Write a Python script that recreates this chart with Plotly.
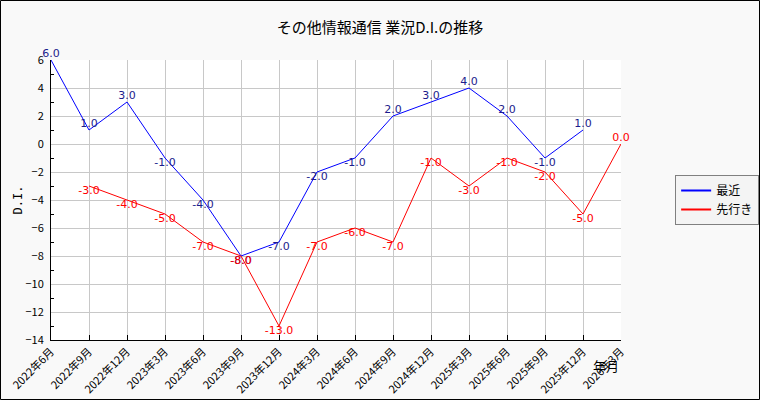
import plotly.graph_objects as go

# data
months = ['2022年6月', '2022年9月', '2022年12月', '2023年3月', '2023年6月', '2023年9月',
          '2023年12月', '2024年3月', '2024年6月', '2024年9月', '2024年12月', '2025年3月',
          '2025年6月', '2025年9月', '2025年12月', '2026年3月']
recent = [6.0, 1.0, 3.0, -1.0, -4.0, -8.0, -7.0, -2.0, -1.0, 2.0, 3.0, 4.0, 2.0, -1.0, 1.0, None]
outlook = [None, -3.0, -4.0, -5.0, -7.0, -8.0, -13.0, -7.0, -6.0, -7.0, -1.0, -3.0, -1.0, -2.0, -5.0, 0.0]
series = [('最近', recent, '#0000ff', '#1c1c8c'), ('先行き', outlook, '#ff0000', '#ff0000')]

def labels(vals):
    return ['' if v is None else f'{v:.1f}' for v in vals]

def positions(vals):
    return ['top center' if (v is not None and v >= 0) else 'bottom center' for v in vals]

fig = go.Figure()
for name, vals, color, tcolor in series:
    fig.add_trace(go.Scatter(x=months, y=vals, mode='lines+text', name=name,
                             line=dict(color=color, width=1), showlegend=False,
                             text=labels(vals), textposition=positions(vals),
                             textfont=dict(color=tcolor, size=11, family='DejaVu Sans'),
                             cliponaxis=False, hoverinfo='skip'))
# legend entries with a thicker sample line
for name, vals, color, tcolor in series:
    fig.add_trace(go.Scatter(x=[None], y=[None], mode='lines', name=name,
                             line=dict(color=color, width=2)))

fig.update_layout(
    width=760, height=400,
    margin=dict(l=51, r=139, t=60, b=60, autoexpand=False),
    paper_bgcolor='#f9f9f9', plot_bgcolor='white',
    font=dict(family='Noto Sans CJK JP, DejaVu Sans', size=11, color='black'),
    title=dict(text='その他情報通信 業況D.I.の推移', x=0.5, xanchor='center',
               y=0.93, yanchor='middle', font=dict(size=15)),
    legend=dict(x=1.095, y=0.5, xanchor='left', yanchor='middle',
                bgcolor='#f4f4f4', bordercolor='#808080', borderwidth=1,
                font=dict(size=12), itemwidth=30, tracegroupgap=0),
    shapes=[dict(type='rect', xref='paper', yref='paper',
                 x0=-50.5/570, x1=1+138.5/570, y0=-59.5/280, y1=1+59.5/280,
                 line=dict(color='black', width=1), layer='below')],
    annotations=[dict(text='年月', xref='paper', yref='paper', x=1, y=-25/280,
                      xanchor='right', yanchor='middle', showarrow=False,
                      font=dict(size=13))],
)
fig.update_xaxes(showline=True, linecolor='black', linewidth=1,
                 showgrid=True, gridcolor='#c8c8c8', gridwidth=1,
                 ticks='inside', ticklen=5, tickcolor='black',
                 tickangle=-45, tickfont=dict(size=11), automargin=False,
                 range=[0, 15], zeroline=False)
fig.update_yaxes(showline=True, linecolor='black', linewidth=1,
                 showgrid=True, gridcolor='#c8c8c8', gridwidth=1,
                 range=[-14, 6], dtick=2, zeroline=False, automargin=False,
                 ticks='', tickfont=dict(size=11), ticklabelstandoff=4,
                 minor=dict(dtick=1, ticks='inside', ticklen=3, tickcolor='black', showgrid=False),
                 title=dict(text='D.I.', font=dict(size=12, family='DejaVu Sans Mono'), standoff=0))

fig.write_html("out.html", config={'displayModeBar': False},
               post_script="document.body.style.margin='0';")
